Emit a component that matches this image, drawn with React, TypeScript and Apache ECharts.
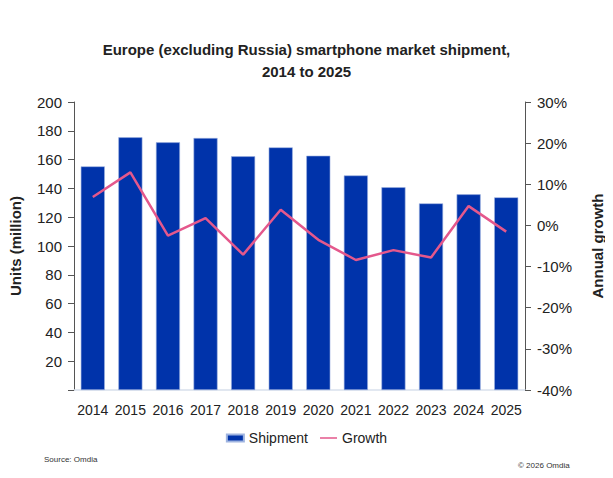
import React, { useEffect, useRef } from "react";
import * as echarts from "echarts";

const years = ["2014", "2015", "2016", "2017", "2018", "2019", "2020", "2021", "2022", "2023", "2024", "2025"];
const shipment = [155.3, 175.5, 172.0, 175.0, 162.3, 168.5, 162.7, 149.0, 140.8, 129.6, 135.9, 133.8];
const growth = [6.9, 12.9, -2.5, 1.8, -7.1, 3.8, -3.5, -8.4, -6.0, -7.8, 4.7, -1.5];

const FONT = "Liberation Sans, Arial, sans-serif";
const LINE_ICON = "path://M0,0h0.01v0.01h-0.01z M0,2.7h17v1.6h-17z M16.99,6.99h0.01v0.01h-0.01z";

export default function App() {
  const ref = useRef<HTMLDivElement>(null);
  useEffect(() => {
    if (!ref.current) return;
    const chart = echarts.init(ref.current, null, { renderer: "svg" });
    chart.setOption({
      animation: false,
      textStyle: { fontFamily: FONT },
      title: {
        text: "Europe (excluding Russia) smartphone market shipment,\n2014 to 2025",
        left: "center",
        top: 33,
        textStyle: { fontSize: 15, fontWeight: "bold", color: "#222", lineHeight: 22, fontFamily: FONT },
      },
      grid: { left: 63, right: 78, top: 102, bottom: 88 },
      legend: {
        bottom: 28,
        left: "center",
        itemWidth: 17,
        itemHeight: 7,
        itemGap: 12,
        textStyle: { fontSize: 14, color: "#222", fontFamily: FONT },
        data: [
          { name: "Shipment", icon: "rect" },
          { name: "Growth", icon: LINE_ICON },
        ],
      },
      xAxis: {
        type: "category",
        data: years,
        axisLine: { lineStyle: { color: "#d8e0ec", width: 1.5 } },
        axisTick: { show: false },
        axisLabel: { fontSize: 14, color: "#222", margin: 13, interval: 0 },
      },
      yAxis: [
        {
          type: "value",
          min: 0,
          max: 200,
          interval: 20,
          name: "Units (million)",
          nameLocation: "middle",
          nameRotate: 90,
          nameGap: 51,
          nameTextStyle: { fontSize: 15, fontWeight: "bold", color: "#222" },
          axisLine: { show: true, lineStyle: { color: "#555" } },
          axisTick: { show: true, length: 6, lineStyle: { color: "#555" } },
          axisLabel: {
            fontSize: 15,
            color: "#222",
            margin: 12,
            formatter: (v: number) => (v === 0 ? "" : String(v)),
          },
          splitLine: { show: false },
        },
        {
          type: "value",
          min: -40,
          max: 30,
          interval: 10,
          name: "Annual growth",
          nameLocation: "middle",
          nameRotate: 90,
          nameGap: 65,
          nameTextStyle: { fontSize: 15, fontWeight: "bold", color: "#222" },
          axisLine: { show: true, lineStyle: { color: "#555" } },
          axisTick: { show: true, length: 6, lineStyle: { color: "#555" } },
          axisLabel: { fontSize: 15, color: "#222", margin: 12, formatter: "{value}%" },
          splitLine: { show: false },
        },
      ],
      series: [
        {
          name: "Shipment",
          type: "bar",
          data: shipment,
          barWidth: "64%",
          itemStyle: { color: "#0033AA", borderColor: "#9fb4e0", borderWidth: 0.6 },
        },
        {
          name: "Growth",
          type: "line",
          yAxisIndex: 1,
          data: growth,
          symbol: "none",
          lineStyle: { color: "#E4588C", width: 2.5 },
          itemStyle: { color: "#E4588C" },
        },
      ],
      graphic: [
        {
          type: "text",
          left: 44,
          top: 455,
          style: { text: "Source: Omdia", fontSize: 8, fill: "#333", fontFamily: FONT },
        },
        {
          type: "text",
          left: 518,
          top: 461,
          style: { text: "© 2026 Omdia", fontSize: 8, fill: "#333", fontFamily: FONT },
        },
      ],
    });
    return () => chart.dispose();
  }, []);
  return <div ref={ref} style={{ width: 613, height: 478, margin: -8 }} />;
}
